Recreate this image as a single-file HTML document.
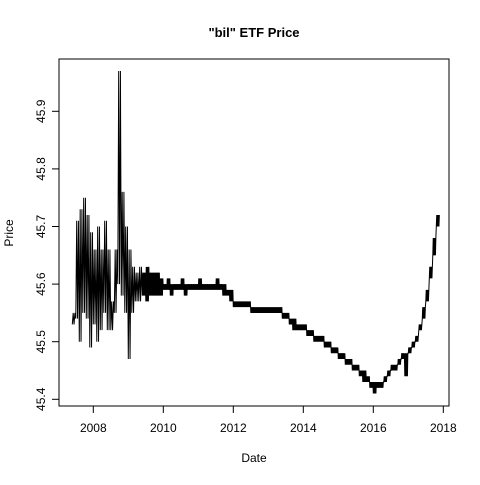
<!DOCTYPE html>
<html><head><meta charset="utf-8"><style>
html,body{margin:0;padding:0;background:#fff;}
svg text{font-family:"Liberation Sans",Arial,sans-serif;}
</style></head><body>
<svg id="chart" width="480" height="480" xmlns="http://www.w3.org/2000/svg">
<rect width="480" height="480" fill="#fff"/>
<text x="254" y="37" text-anchor="middle" font-size="13" font-weight="bold">"bil" ETF Price</text>
<text x="254" y="462" text-anchor="middle" font-size="12">Date</text>
<text transform="translate(13,233) rotate(-90)" text-anchor="middle" font-size="12">Price</text>
<rect x="59" y="59" width="390" height="347" fill="none" stroke="#000" stroke-width="1"/>
<g id="xaxis"></g>
<g id="yaxis"></g>
<g id="series"></g>
</svg>
<script>
const xTicks = [2008, 2010, 2012, 2014, 2016, 2018];
const yTicks = [45.4, 45.5, 45.6, 45.7, 45.8, 45.9];
const startYear = 2007.40;
const stepYear = 0.1;
const lows = [
45.53,45.54,45.50,45.55,45.54,45.49,45.53,45.50,45.52,45.55,45.52,45.52,45.55,45.60,45.58,45.55,45.47,45.55,45.57,45.57,
45.58,45.57,45.58,45.58,45.58,45.58,
45.59,45.59,45.58,45.59,45.59,45.59,45.58,45.59,45.59,45.59,45.59,45.59,45.59,45.59,45.59,45.59,45.59,45.58,
45.58,45.57,
45.56,45.56,45.56,45.56,45.56,
45.55,45.55,45.55,45.55,45.55,45.55,45.55,45.55,45.55,
45.54,45.54,45.53,45.52,45.52,45.52,45.52,45.51,45.51,45.50,45.50,45.50,45.49,45.49,45.48,45.48,45.47,45.47,45.46,45.46,
45.45,45.45,45.44,45.43,45.43,45.42,45.41,45.42,45.42,45.43,45.44,45.45,45.45,45.46,45.47,45.44,45.48,45.49,45.50,45.52,
45.54,45.57,45.61,45.65,45.70
];
const highs = [
45.55,45.71,45.73,45.75,45.72,45.69,45.66,45.70,45.66,45.71,45.66,45.57,45.66,45.97,45.76,45.70,45.66,45.63,45.62,45.63,
45.62,45.63,45.62,45.62,45.62,45.61,
45.60,45.61,45.60,45.60,45.60,45.61,45.60,45.60,45.60,45.60,45.61,45.60,45.60,45.60,45.60,45.61,45.60,45.60,
45.59,45.59,
45.57,45.57,45.57,45.57,45.57,
45.56,45.56,45.56,45.56,45.56,45.56,45.56,45.56,45.56,
45.55,45.55,45.54,45.54,45.53,45.53,45.53,45.52,45.52,45.51,45.51,45.51,45.50,45.50,45.49,45.49,45.48,45.48,45.47,45.47,
45.46,45.46,45.45,45.45,45.44,45.43,45.43,45.43,45.43,45.44,45.45,45.46,45.46,45.47,45.48,45.48,45.49,45.50,45.51,45.53,
45.56,45.59,45.63,45.68,45.72
];
const NS = "http://www.w3.org/2000/svg";
function xScale(yr){ return 93.3 + (yr - 2008) * 35.0; }
function yScale(v){ return 399.3 - (v - 45.4) * 576; }
const xa = document.getElementById('xaxis');
const ya = document.getElementById('yaxis');
const sg = document.getElementById('series');
function mk(tag, attrs, parent){ const e=document.createElementNS(NS,tag); for(const k in attrs) e.setAttribute(k,attrs[k]); parent.appendChild(e); return e; }
const xl = mk('line',{x1:xScale(xTicks[0]),x2:xScale(xTicks[xTicks.length-1]),y1:406,y2:406,stroke:'#000'},xa);


xTicks.forEach(t=>{
  const x=xScale(t);
  const tk=mk('line',{x1:x,x2:x,y1:406,y2:413,stroke:'#000'},xa);
  
  
  const tx=mk('text',{x:x,y:432,'text-anchor':'middle','font-size':12},xa);
  tx.textContent=t;
  
  
});
const yl = mk('line',{x1:59,x2:59,y1:yScale(yTicks[0]),y2:yScale(yTicks[yTicks.length-1]),stroke:'#000'},ya);


yTicks.forEach(t=>{
  const y=yScale(t);
  const tk=mk('line',{x1:52,x2:59,y1:y,y2:y,stroke:'#000'},ya);
  
  
  const tx=mk('text',{transform:'translate(45,'+y+') rotate(-90)','text-anchor':'middle','font-size':12},ya);
  tx.textContent=t.toFixed(1);
  
  
});
const pts = [];
for (let i = 0; i < lows.length; i++) {
  const sub = (i < 20) ? 4 : 8;
  for (let j = 0; j < sub; j++) {
    const yr = startYear + i*stepYear + j*stepYear/sub;
    const v = (j % 2 === 0) ? lows[i] : highs[i];
    pts.push(xScale(yr).toFixed(2)+','+yScale(v).toFixed(2));
  }
}
const pl = mk('polyline',{points:pts.join(' '),fill:'none',stroke:'#000','stroke-width':1,'stroke-linejoin':'miter'},sg);


</script>
</body></html>
